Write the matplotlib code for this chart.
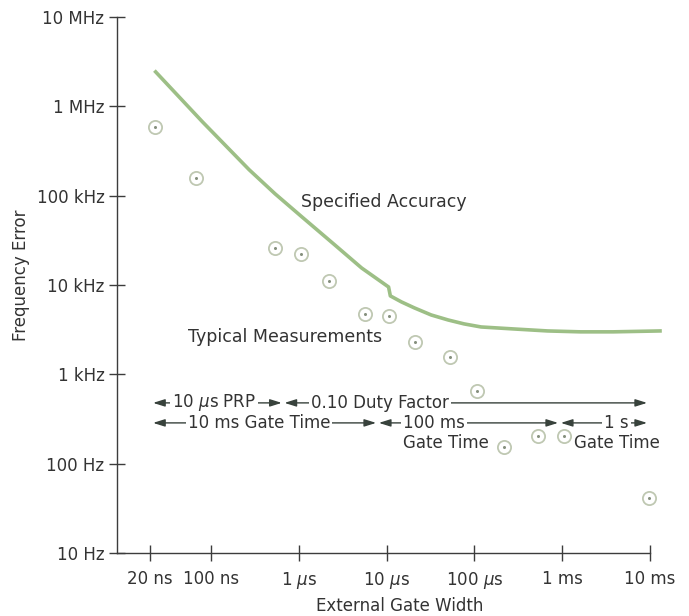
import numpy as np
import matplotlib.pyplot as plt

# gate width in seconds, frequency error in Hz
spec_width = [2.33e-8, 7.96e-8, 2.71e-7, 5.34e-7, 1.08e-6, 2.56e-6, 5.18e-6, 1.05e-5,
              1.10e-5, 1.47e-5, 2.06e-5, 3.21e-5, 5.01e-5, 7.61e-5, 1.19e-4,
              2.81e-4, 6.81e-4, 1.61e-3, 3.81e-3, 1.30e-2]
spec_error = [2.43e6, 6.7e5, 1.95e5, 1.05e5, 5.79e4, 2.81e4, 1.55e4, 9.5e3,
              7.55e3, 6.47e3, 5.55e3, 4.62e3, 4.06e3, 3.67e3, 3.39e3,
              3.22e3, 3.06e3, 2.99e3, 2.99e3, 3.06e3]

meas_width = [2.32e-8, 6.64e-8, 5.34e-7, 1.05e-6, 2.19e-6, 5.6e-6, 1.05e-5,
              2.12e-5, 5.28e-5, 1.07e-4, 2.16e-4, 5.25e-4, 1.06e-3, 9.75e-3]
meas_error = [5.94e5, 1.58e5, 2.61e4, 2.23e4, 1.11e4, 4.75e3, 4.51e3,
              2.31e3, 1.57e3, 652, 154, 204, 204, 41]

xticks = [2e-8, 1e-7, 1e-6, 1e-5, 1e-4, 1e-3, 1e-2]
xlabels = ['20 ns', '100 ns', r'1 $\mu$s', r'10 $\mu$s', r'100 $\mu$s', '1 ms', '10 ms']
yticks = [10, 100, 1e3, 1e4, 1e5, 1e6, 1e7]
ylabels = ['10 Hz', '100 Hz', '1 kHz', '10 kHz', '100 kHz', '1 MHz', '10 MHz']

txt = '#333333'
plt.rcParams['font.family'] = 'DejaVu Sans'
plt.rcParams['mathtext.fontset'] = 'dejavusans'

fig = plt.figure(figsize=(6.89, 6.16), dpi=100)
ax = fig.add_axes([117/689, 63/616, 533/689, 536/616])
ax.set_xscale('log')
ax.set_yscale('log')
ax.set_xlim(8.45e-9, 1e-2)
ax.set_ylim(10, 1e7)

ax.plot(spec_width, spec_error, color='#9dbf86', lw=2.6, clip_on=False, zorder=3,
        solid_joinstyle='round')
ax.plot(meas_width, meas_error, ls='none', marker='o', ms=9.5, mfc='none',
        mec='#bfc8b2', mew=1.3, zorder=3, clip_on=False)
ax.plot(meas_width, meas_error, ls='none', marker='o', ms=2.2, mfc='#86907e',
        mec='none', zorder=3, clip_on=False)

for s in ['top', 'right']:
    ax.spines[s].set_visible(False)
for s in ['left', 'bottom']:
    ax.spines[s].set_color('#3c3c3c')
    ax.spines[s].set_linewidth(1)

ax.set_xticks(xticks)
ax.set_xticklabels(xlabels)
ax.set_yticks(yticks)
ax.set_yticklabels(ylabels)
ax.xaxis.set_minor_locator(plt.NullLocator())
ax.yaxis.set_minor_locator(plt.NullLocator())
ax.tick_params(axis='both', direction='inout', length=12, width=1, color='#3c3c3c',
               labelsize=12, labelcolor=txt)
ax.tick_params(axis='y', pad=3)
ax.tick_params(axis='x', pad=6)

ax.set_xlabel('External Gate Width', fontsize=12, color=txt)
ax.xaxis.set_label_coords(0.531, -0.082)
ax.set_ylabel('Frequency Error', fontsize=12, color=txt)
ax.yaxis.set_label_coords(-0.163, 0.519)

ax.text(9.2e-6, 8.5e4, 'Specified Accuracy', fontsize=12.5, color=txt,
        ha='center', va='center')
ax.text(6.9e-7, 2.6e3, 'Typical Measurements', fontsize=12.5, color=txt,
        ha='center', va='center')

# ranges of gate width
row1, row2, row3 = 479, 286, 171
arrow_col = '#38423c'
segments = [
    (2.1e-8, 6.6e-7, row1, 1.09e-7, r'10 $\mu$s PRP'),
    (6.6e-7, 9.6e-3, row1, 8.3e-6, '0.10 Duty Factor'),
    (2.1e-8, 7.85e-6, row2, 3.52e-7, '10 ms Gate Time'),
    (7.85e-6, 9.3e-4, row2, 3.48e-5, '100 ms'),
    (9.3e-4, 9.6e-3, row2, 4.12e-3, '1 s'),
]
for x0, x1, y, xt, label in segments:
    ax.annotate('', xy=(x1, y), xytext=(x0, y),
                arrowprops=dict(arrowstyle='<|-|>,head_length=0.7,head_width=0.22',
                                color=arrow_col, lw=1, shrinkA=1, shrinkB=1),
                zorder=2)
    ax.text(xt, y, label, fontsize=12, color=txt, ha='center', va='center',
            bbox=dict(facecolor='white', edgecolor='none', pad=1.5), zorder=4)
ax.text(4.75e-5, row3, 'Gate Time', fontsize=12, color=txt, ha='center', va='center')
ax.text(4.2e-3, row3, 'Gate Time', fontsize=12, color=txt, ha='center', va='center')

fig.savefig('out.png', dpi=100)
